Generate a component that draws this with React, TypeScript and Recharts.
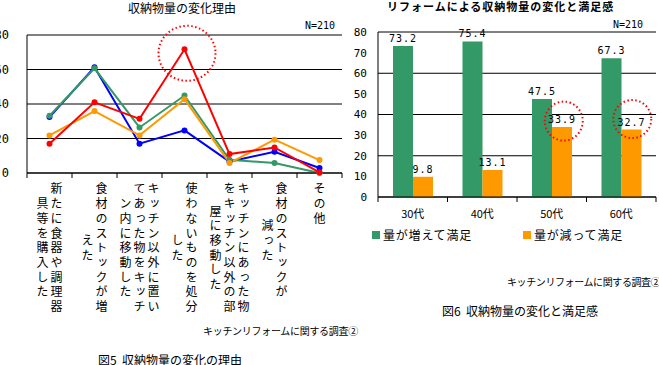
import React from "react";
import {
  LineChart,
  Line,
  BarChart,
  Bar,
  XAxis,
  YAxis,
  CartesianGrid,
  Legend,
  LabelList,
  ReferenceDot,
} from "recharts";

// 図5 収納物量の変化の理由
const reasonLabels: string[][] = [
  ["新たに食器や調理器", "具等を購入した"],
  ["食材のストックが増", "えた"],
  ["キッチン以外に置い", "てあった物をキッチ", "ン内に移動した"],
  ["使わないものを処分", "した"],
  ["キッチンにあった物", "をキッチン以外の部", "屋に移動した"],
  ["食材のストックが", "減った"],
  ["その他"],
];
const reason30 = [32.4, 61.3, 17, 24.7, 6.6, 12.3, 2.9];
const reason40 = [33.2, 60.7, 26.4, 44.9, 7.7, 5.8, 0];
const reason50 = [17, 41, 31.4, 71.7, 11, 14.8, 0.4];
const reason60 = [21.8, 35.9, 21.8, 42.8, 5.8, 19.3, 7.5];
const reasonTicks = [0, 20, 40, 60, 80];

// 図6 収納物量の変化と満足感
const ages = ["30代", "40代", "50代", "60代"];
const increased = [73.2, 75.4, 47.5, 67.3];
const decreased = [9.8, 13.1, 33.9, 32.7];
const satisTicks = [0, 10, 20, 30, 40, 50, 60, 70, 80];

const reasonData = reasonLabels.map((cols, i) => ({
  cat: cols.join(""),
  s30: reason30[i],
  s40: reason40[i],
  s50: reason50[i],
  s60: reason60[i],
}));

const satisData = ages.map((a, i) => ({
  age: a,
  inc: increased[i],
  dec: decreased[i],
}));

const JP = '"Noto Sans CJK JP", "Noto Sans", sans-serif';
const NUM = '"DejaVu Sans Mono", monospace';

const L_BAND = (342 - 27) / 7;
const R_BAND = (656 - 378) / 4;

function ReasonTick(props: any) {
  const { x, y, payload } = props;
  const idx = reasonData.findIndex((d) => d.cat === payload.value);
  const cols = reasonLabels[idx] || [];
  const maxLen = Math.max(...cols.map((c) => c.length));
  const pitch = 14.7;
  const cy = y + 16 + ((maxLen - 1) * pitch) / 2 + 1.3;
  const n = cols.length;
  return (
    <g>
      <line x1={x - L_BAND / 2} x2={x - L_BAND / 2} y1={y} y2={y + 5} stroke="#000" />
      {idx === reasonLabels.length - 1 && (
        <line x1={x + L_BAND / 2} x2={x + L_BAND / 2} y1={y} y2={y + 5} stroke="#000" />
      )}
      {cols.map((c, i) => (
        <text
          key={i}
          x={x + ((n - 1) * 14) / 2 - i * 14}
          y={cy}
          textAnchor="middle"
          fontSize={12}
          fontFamily={JP}
          fill="#000"
          style={{ writingMode: "vertical-rl", letterSpacing: "2.7px" }}
        >
          {c}
        </text>
      ))}
    </g>
  );
}

function AgeTick(props: any) {
  const { x, y, payload, index } = props;
  return (
    <g>
      <line x1={x - R_BAND / 2} x2={x - R_BAND / 2} y1={y} y2={y + 5} stroke="#000" />
      {index === ages.length - 1 && (
        <line x1={x + R_BAND / 2} x2={x + R_BAND / 2} y1={y} y2={y + 5} stroke="#000" />
      )}
      <text x={x} y={y + 16} textAnchor="middle" dominantBaseline="central" fontSize={11} fontFamily={JP} fill="#000">
        {payload.value}
      </text>
    </g>
  );
}

const dottedCircle = (dx: number, dy: number, rx: number, ry: number) => (p: any) => (
  <ellipse
    cx={p.cx + dx}
    cy={p.cy + dy}
    rx={rx}
    ry={ry}
    fill="none"
    stroke="#ff0000"
    strokeWidth={2}
    strokeDasharray="1.5 2.5"
  />
);

function SatisLegend() {
  const item = (color: string, label: string, left: number) => (
    <div style={{ position: "absolute", left, top: 2, display: "flex", alignItems: "center" }}>
      <span style={{ width: 8, height: 8, background: color, display: "inline-block", marginRight: 3 }} />
      <span style={{ fontSize: 12, letterSpacing: 0.8, fontFamily: JP, lineHeight: "16px" }}>{label}</span>
    </div>
  );
  return (
    <div style={{ position: "relative", width: 319, height: 25 }}>
      {item("#339966", "量が増えて満足", 32)}
      {item("#ff9900", "量が減って満足", 183)}
    </div>
  );
}

const txt = (s: string, left: number, top: number, size: number, extra: any = {}) => (
  <div
    style={{
      position: "absolute",
      left,
      top,
      fontSize: size,
      fontFamily: JP,
      lineHeight: 1,
      whiteSpace: "pre",
      color: "#000",
      ...extra,
    }}
  >
    {s}
  </div>
);

export default function App() {
  return (
    <div style={{ position: "absolute", left: 0, top: 0, width: 659, height: 365, background: "#fff", overflow: "hidden" }}>
      {txt("収納物量の変化理由", 128, 2, 12)}
      {txt("N=210", 305, 21, 10, { fontFamily: NUM })}
      <div style={{ position: "absolute", left: 0, top: 0 }}>
        <LineChart width={345} height={320} data={reasonData} margin={{ top: 35, right: 3, left: 0, bottom: 0 }}>
          <CartesianGrid vertical={false} stroke="#000" />
          <XAxis
            dataKey="cat"
            height={147}
            interval={0}
            tickSize={0}
            tickMargin={0}
            padding={{ left: L_BAND / 2, right: L_BAND / 2 }}
            tick={<ReasonTick />}
            axisLine={{ stroke: "#000" }}
          />
          <XAxis xAxisId="top" dataKey="cat" orientation="top" height={0} tick={false} tickLine={false} axisLine={{ stroke: "#888" }} />
          <YAxis
            domain={[0, 80]}
            ticks={reasonTicks}
            width={27}
            tickSize={0}
            tickMargin={18}
            tick={{ fontSize: 12, fill: "#000", fontFamily: NUM }}
            axisLine={{ stroke: "#000" }}
          />
          <YAxis yAxisId="r" orientation="right" width={0} domain={[0, 80]} tick={false} tickLine={false} axisLine={{ stroke: "#888" }} />
          <Line dataKey="s30" name="30代" stroke="#0000ff" strokeWidth={2} dot={{ r: 3, fill: "#0000ff", strokeWidth: 0 }} isAnimationActive={false} />
          <Line dataKey="s40" name="40代" stroke="#339966" strokeWidth={2} dot={{ r: 3, fill: "#339966", strokeWidth: 0 }} isAnimationActive={false} />
          <Line dataKey="s60" name="60代" stroke="#ff9900" strokeWidth={2} dot={{ r: 3, fill: "#ff9900", strokeWidth: 0 }} isAnimationActive={false} />
          <Line dataKey="s50" name="50代" stroke="#ff0000" strokeWidth={2} dot={{ r: 3, fill: "#ff0000", strokeWidth: 0 }} isAnimationActive={false} />
          <ReferenceDot x={reasonData[3].cat} y={reason50[3]} r={28} shape={dottedCircle(2.5, 4, 28.5, 27.5)} />
        </LineChart>
      </div>
      {txt("キッチンリフォームに関する調査②", 203, 326, 10, { letterSpacing: -0.3 })}
      {txt("図5  収納物量の変化の理由", 98, 354, 12)}

      {txt("リフォームによる収納物量の変化と満足感", 387, 1, 11, { letterSpacing: 1, fontWeight: 700 })}
      {txt("N=210", 613, 20, 10, { fontFamily: NUM })}
      <div style={{ position: "absolute", left: 340, top: 0 }}>
        <BarChart width={319} height={250} data={satisData} barSize={20} barGap={0} margin={{ top: 32, right: 3, left: 0, bottom: 0 }}>
          <CartesianGrid vertical={false} stroke="#000" />
          <XAxis dataKey="age" height={28} interval={0} tickSize={0} tickMargin={0} tick={<AgeTick />} axisLine={{ stroke: "#000" }} />
          <XAxis xAxisId="top" dataKey="age" orientation="top" height={0} tick={false} tickLine={false} axisLine={{ stroke: "#888" }} />
          <YAxis
            domain={[0, 80]}
            ticks={satisTicks}
            width={38}
            tickSize={0}
            tickMargin={11}
            tick={{ fontSize: 11, fill: "#000", fontFamily: NUM }}
            axisLine={{ stroke: "#000" }}
          />
          <YAxis yAxisId="r" orientation="right" width={0} domain={[0, 80]} tick={false} tickLine={false} axisLine={{ stroke: "#888" }} />
          <Legend verticalAlign="bottom" height={25} content={() => <SatisLegend />} />
          <Bar dataKey="inc" name="量が増えて満足" fill="#339966" isAnimationActive={false}>
            <LabelList dataKey="inc" position="top" offset={4} fontSize={10} fill="#000" fontFamily={NUM} style={{ letterSpacing: 1 }} />
          </Bar>
          <Bar dataKey="dec" name="量が減って満足" fill="#ff9900" isAnimationActive={false}>
            <LabelList dataKey="dec" position="top" offset={4} fontSize={10} fill="#000" fontFamily={NUM} style={{ letterSpacing: 1 }} />
          </Bar>
          <ReferenceDot x="50代" y={decreased[2]} r={19} shape={dottedCircle(12, -6, 19, 19.5)} />
          <ReferenceDot x="60代" y={decreased[3]} r={19} shape={dottedCircle(11, -10.5, 19, 19)} />
        </BarChart>
      </div>
      {txt("キッチンリフォームに関する調査②", 507, 277, 10, { letterSpacing: -0.4 })}
      {txt("図6  収納物量の変化と満足感", 442, 305, 12)}
    </div>
  );
}
